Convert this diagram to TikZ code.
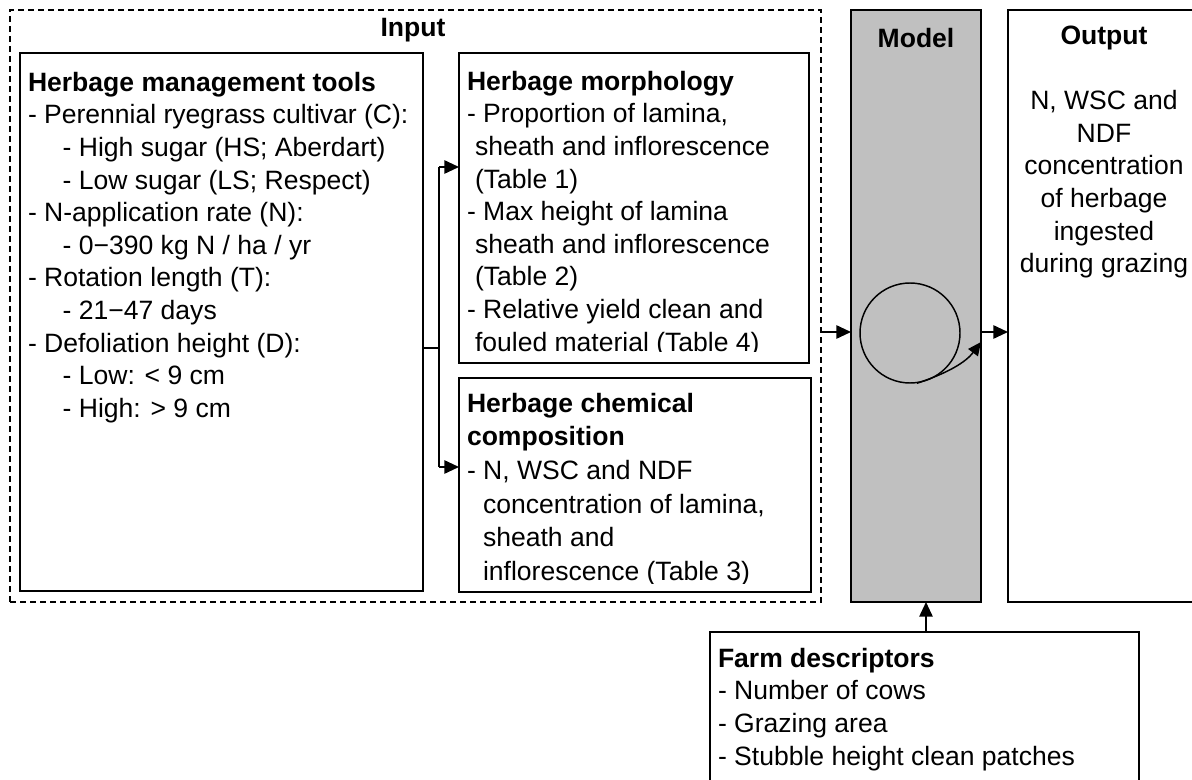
\documentclass[tikz,border=0pt]{standalone}
\usepackage{fontspec}
\setmainfont{Liberation Sans}
\usetikzlibrary{arrows.meta}
\definecolor{modelgray}{HTML}{C0C0C0}
\newcommand\diafont{\fontsize{19.9}{24.45}\selectfont}
\newcommand\diafontwide{\fontsize{19.9}{25.2}\selectfont}
\begin{document}
\begin{tikzpicture}[x=0.75pt,y=-0.75pt,
  box/.style={draw, line width=1.3pt, anchor=north west, inner sep=0pt, outer sep=0pt},
  txt/.style={anchor=north west, inner sep=0pt, outer sep=0pt, align=left, font=\diafont},
  ctxt/.style={inner sep=0pt, outer sep=0pt, align=center, font=\diafont},
  conn/.style={line width=1.3pt},
  arr/.style={line width=1.3pt, -{Triangle[length=11pt,width=10pt]}},
]
\clip (0,0) rectangle (1192,780);
\fill[white] (0,0) rectangle (1192,780);

% boxes
\node[box, draw, dash pattern=on 4.5pt off 3pt, line width=0.9pt, minimum width=608.25pt, minimum height=444pt] (input) at (10,10) {};
\node[box, minimum width=302.25pt, minimum height=403.5pt] (tools) at (20,53) {};
\node[box, minimum width=262.5pt, minimum height=232.5pt] (morph) at (459,53) {};
\node[box, minimum width=264pt, minimum height=160.5pt] (chem) at (459,378) {};
\node[box, fill=modelgray, minimum width=97.5pt, minimum height=444pt] (model) at (851,10) {};
\node[box, minimum width=144pt, minimum height=444pt] (output) at (1008,10) {};
\node[box, minimum width=321.75pt, minimum height=126pt] (farm) at (710,632) {};

% labels
\node[ctxt, font=\diafont\bfseries] (inlab) at (413,30) {Input};
\node[ctxt, font=\diafont\bfseries] (modlab) at (916,38) {Model};
\node[ctxt, anchor=north] (outtxt) at (1104,26) {\textbf{Output}\\[24.45pt]N, WSC and\\NDF\\concentration\\of herbage\\ingested\\during grazing};

\node[txt] (toolstxt) at (28,72) {\textbf{Herbage management tools}\\
- Perennial ryegrass cultivar (C):\\
\hspace*{26pt}- High sugar (HS; Aberdart)\\
\hspace*{26pt}- Low sugar (LS; Respect)\\
- N-application rate (N):\\
\hspace*{26pt}- 0−390 kg N / ha / yr\\
- Rotation length (T):\\
\hspace*{26pt}- 21−47 days\\
- Defoliation height (D):\\
\hspace*{26pt}- Low: < 9 cm\\
\hspace*{26pt}- High: > 9 cm};

\begin{scope}
\clip (459,53) rectangle (809,352);
\node[txt] (morphtxt) at (467,71) {\textbf{Herbage morphology}\\
- Proportion of lamina,\\
\hspace*{6pt}sheath and inflorescence\\
\hspace*{6pt}(Table 1)\\
- Max height of lamina\\
\hspace*{6pt}sheath and inflorescence\\
\hspace*{6pt}(Table 2)\\
- Relative yield clean and\\
\hspace*{6pt}fouled material (Table 4)};
\end{scope}

\begin{scope}
\clip (459,378) rectangle (811,583);
\node[txt, font=\diafontwide] (chemtxt) at (467,393) {\textbf{Herbage chemical}\\
\textbf{composition}\\
- N, WSC and NDF\\
\hspace*{12pt}concentration of lamina,\\
\hspace*{12pt}sheath and\\
\hspace*{12pt}inflorescence (Table 3)};
\end{scope}

\node[txt] (farmtxt) at (718,648) {\textbf{Farm descriptors}\\
- Number of cows\\
- Grazing area\\
- Stubble height clean patches};

% loop in model
\node[circle, draw, line width=1.1pt, minimum size=75pt, inner sep=0pt] (loop) at (910,333) {};
\coordinate (ce) at (981,342);
\draw[line width=1.1pt, -{Triangle[length=10pt,width=9pt]}] (loop.-82) .. controls (948,373) and (966,362) .. (ce);

% connectors
\coordinate (j) at (439,348);
\coordinate (jt) at (439,167);
\coordinate (jb) at (439,467);
\draw[conn] (tools.east |- j) -- (j);
\draw[conn] (jt) -- (jb);
\draw[arr] (jt) -- (morph.west |- jt);
\draw[arr] (jb) -- (chem.west |- jb);

\coordinate (m) at (0,332);
\draw[arr] (input.east |- m) -- (model.west |- m);
\draw[arr] (model.east |- m) -- (output.west |- m);

\coordinate (fa) at (926,0);
\draw[arr] (farm.north -| fa) -- (model.south -| fa);
\end{tikzpicture}
\end{document}
